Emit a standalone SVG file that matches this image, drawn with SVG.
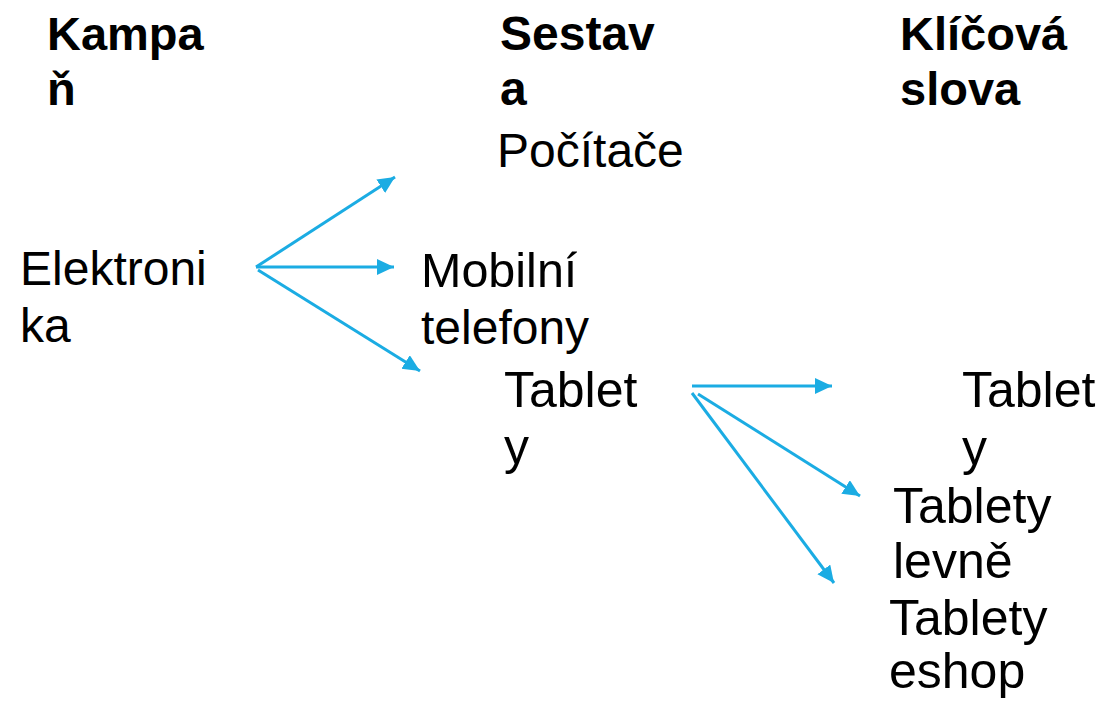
<svg xmlns="http://www.w3.org/2000/svg" width="1104" height="702" viewBox="0 0 1104 702">
  <style>
    .hd { font-family: "Liberation Sans", Arial, sans-serif; font-weight: bold; font-size: 47px; fill: #000; }
    .tx { font-family: "Liberation Sans", Arial, sans-serif; font-size: 48px; fill: #000; }
    .lg { font-size: 50px; }
    .ar { stroke: #1BACE3; stroke-width: 3; fill: none; marker-end: url(#head); }
  </style>
  <defs>
    <marker id="head" markerUnits="userSpaceOnUse" markerWidth="18" markerHeight="17" refX="17" refY="8" orient="auto">
      <path d="M0,0 L17,8 L0,16 z" fill="#1BACE3"/>
    </marker>
  </defs>
  <rect width="1104" height="702" fill="#fff"/>

  <!-- column headers -->
  <g id="hdr-kampan"><text class="hd" x="47" y="50">Kampa</text><text class="hd" x="47" y="105">ň</text></g>
  <g id="hdr-sestava"><text class="hd" x="500" y="50" style="font-size:48px">Sestav</text><text class="hd" x="500" y="105" style="font-size:48px">a</text></g>
  <g id="hdr-klicova"><text class="hd" x="900" y="50">Klíčová</text><text class="hd" x="900" y="105">slova</text></g>

  <!-- nodes -->
  <g id="n-elektronika"><text class="tx" x="20" y="285">Elektroni</text><text class="tx" x="20" y="342">ka</text></g>
  <g id="n-pocitace"><text class="tx" x="497" y="167">Počítače</text></g>
  <g id="n-mobilni"><text class="tx" x="421" y="287" style="font-size:48.5px">Mobilní</text><text class="tx" x="421" y="344">telefony</text></g>
  <g id="n-tablety"><text class="tx lg" x="504" y="407">Tablet</text><text class="tx lg" x="504" y="464">y</text></g>
  <g id="k-tablety"><text class="tx lg" x="962" y="407">Tablet</text><text class="tx lg" x="962" y="465">y</text></g>
  <g id="k-tablety-levne"><text class="tx lg" x="893" y="523">Tablety</text><text class="tx lg" x="893" y="578">levně</text></g>
  <g id="k-tablety-eshop"><text class="tx lg" x="889" y="635">Tablety</text><text class="tx lg" x="889" y="688">eshop</text></g>

  <!-- connectors -->
  <g id="connectors">
    <line class="ar" x1="256" y1="267" x2="395" y2="177"/>
    <line class="ar" x1="256" y1="267" x2="394" y2="267"/>
    <line class="ar" x1="258" y1="270" x2="420" y2="371"/>
    <line class="ar" x1="692" y1="386" x2="832" y2="386"/>
    <line class="ar" x1="698" y1="394" x2="860" y2="496"/>
    <line class="ar" x1="692" y1="393" x2="834" y2="583"/>
  </g>
</svg>
